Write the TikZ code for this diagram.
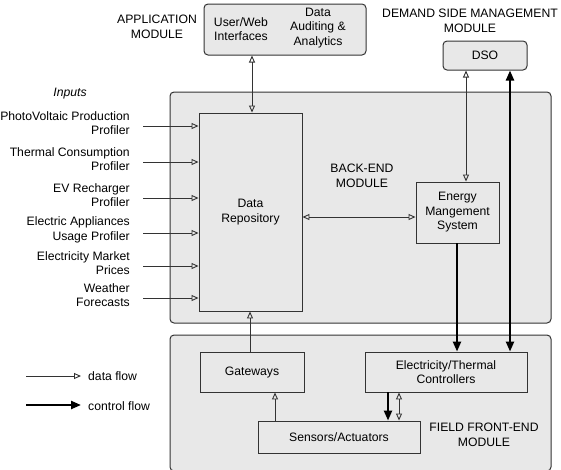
\documentclass[tikz,border=0pt]{standalone}
\usepackage{fontspec}
\setmainfont{Liberation Sans}
\usetikzlibrary{arrows.meta}
\definecolor{boxfill}{HTML}{E8E8E8}
\definecolor{edge}{HTML}{333333}
\begin{document}
\begin{tikzpicture}[x=1pt,y=-1pt,
  module/.style={draw=edge, line width=1pt, fill=boxfill, rounded corners=4pt, inner sep=0pt},
  blk/.style={draw=edge, line width=0.9pt, fill=boxfill, inner sep=0pt, align=center, font=\fontsize{12.2}{14.5}\selectfont},
  lbl/.style={inner sep=0pt, align=center, font=\fontsize{12.2}{14.5}\selectfont},
  dflow/.style={draw=edge, line width=0.9pt, -{Triangle[open, length=7pt, width=6pt]}},
  dflow2/.style={draw=edge, line width=0.9pt, {Triangle[open, length=7pt, width=6pt]}-{Triangle[open, length=7pt, width=6pt]}},
  cflow/.style={draw=black, line width=2.2pt, -{Triangle[length=10pt, width=8pt]}},
  cflow2/.style={draw=black, line width=2.2pt, {Triangle[length=10pt, width=8pt]}-{Triangle[length=10pt, width=8pt]}}
]
\useasboundingbox (0,0) rectangle (561,469);
% modules
\node[module, minimum width=162pt, minimum height=51pt] (app) at (285,29.5) {};
\node[module, minimum width=381pt, minimum height=231pt] (back) at (360.5,207.5) {};
\node[module, minimum width=381pt, minimum height=136pt] (field) at (360.5,403) {};
\node[module, minimum width=84pt, minimum height=29pt, font=\fontsize{12.2}{14.5}\selectfont] (dso) at (485,55.5) {DSO};
% app contents
\node[lbl] (uwi) at (241,29) {User/Web\\Interfaces};
\node[lbl] (daa) at (318,28) {Data\\Auditing \&\\Analytics};
\node[lbl] (appl) at (157,27) {APPLICATION\\MODULE};
\node[lbl] (dsml) at (470,21) {DEMAND SIDE MANAGEMENT\\MODULE};
% back-end contents
\node[blk, minimum width=103pt, minimum height=198pt] (dr) at (250.5,212) {Data\\Repository};
\node[blk, minimum width=83pt, minimum height=61pt] (ems) at (457.5,212.5) {Energy\\Mangement\\System};
\node[lbl] (bel) at (362,176) {BACK-END\\MODULE};
% field contents
\node[blk, minimum width=104pt, minimum height=40pt] (gw) at (252,372) {Gateways};
\node[blk, minimum width=162pt, minimum height=40pt] (ctl) at (446,372) {Electricity/Thermal\\Controllers};
\node[blk, minimum width=162pt, minimum height=32pt] (sa) at (339,437) {Sensors/Actuators};
\node[lbl] (ffl) at (484,435) {FIELD FRONT-END\\MODULE};
% inputs
\node[lbl, font=\fontsize{12.2}{14.5}\itshape] (inp) at (70,94) {Inputs};
\foreach \n/\y/\t in {i1/126/{PhotoVoltaic Production\\Profiler},
                      i2/162/{Thermal Consumption\\Profiler},
                      i3/198/{EV Recharger\\Profiler},
                      i4/233/{Electric Appliances\\Usage Profiler},
                      i5/266/{Electricity Market\\Prices},
                      i6/298/{Weather\\Forecasts}}{
  \node[lbl, align=right, anchor=east] (\n l) at (130,\y-3) {\t};
  \coordinate (\n s) at (143,\y);
  \draw[dflow] (\n s) -- (dr.west |- \n s);
}
% connectors
\draw[dflow2] (app.south -| 252,0) -- (dr.north -| 252,0);
\draw[dflow2] (dr.east |- 0,217) -- (ems.west |- 0,217);
\draw[dflow2] (dso.south -| 466,0) -- (ems.north -| 466,0);
\draw[cflow2] (dso.south -| 510,0) -- (ctl.north -| 510,0);
\draw[cflow] (ems.south -| 457,0) -- (ctl.north -| 457,0);
\draw[dflow] (gw.north -| 250,0) -- (dr.south -| 250,0);
\draw[dflow] (sa.north -| 275,0) -- (gw.south -| 275,0);
\draw[cflow] (ctl.south -| 388,0) -- (sa.north -| 388,0);
\draw[dflow2] (ctl.south -| 399,0) -- (sa.north -| 399,0);
% legend
\coordinate (l1s) at (26,376);
\coordinate (l1e) at (81,376);
\draw[dflow] (l1s) -- (l1e);
\node[lbl, anchor=west] (l1t) at (88,376) {data flow};
\coordinate (l2s) at (26,405);
\coordinate (l2e) at (81,405);
\draw[cflow] (l2s) -- (l2e);
\node[lbl, anchor=west] (l2t) at (88,406) {control flow};
\end{tikzpicture}
\end{document}
